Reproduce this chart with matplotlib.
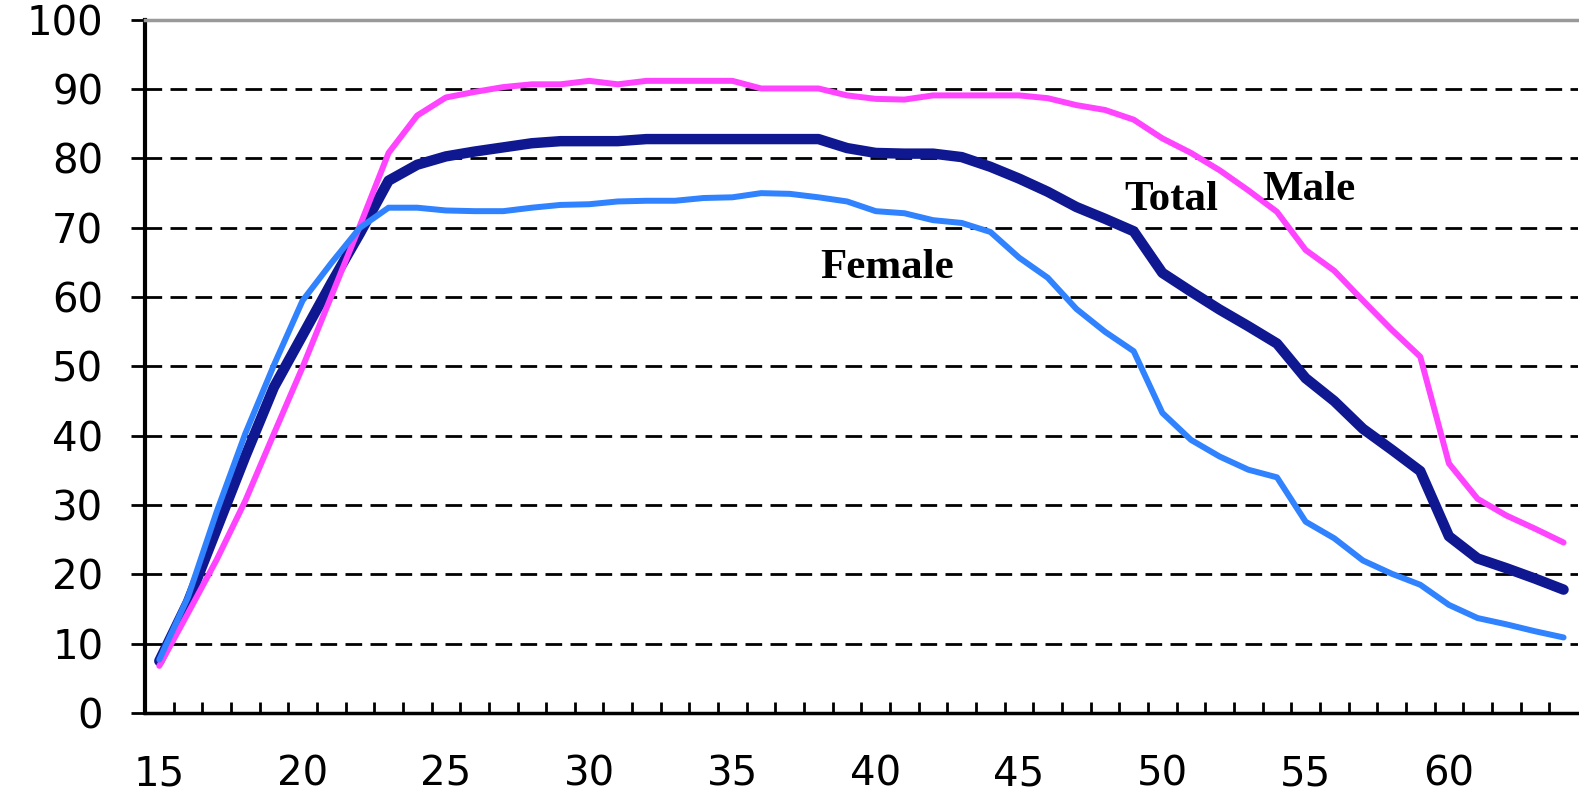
import matplotlib.pyplot as plt
from matplotlib.ticker import FixedLocator

ages = list(range(15, 65))

total = [7.5, 16, 26.5, 37, 47, 54.5, 62, 69.2, 76.8, 79.1,
         80.3, 81, 81.6, 82.2, 82.5, 82.5, 82.5, 82.8, 82.8, 82.8,
         82.8, 82.8, 82.8, 82.8, 81.5, 80.8, 80.7, 80.7, 80.2, 78.8,
         77.1, 75.2, 73, 71.3, 69.5, 63.5, 60.8, 58.2, 55.8, 53.3,
         48.3, 45, 41, 38, 34.9, 25.5, 22.3, 20.9, 19.4, 17.8]

male = [6.8, 14.4, 22.1, 30.6, 40.3, 49.9, 60.1, 70.3, 80.8, 86.2,
        88.8, 89.6, 90.3, 90.7, 90.7, 91.2, 90.7, 91.2, 91.2, 91.2,
        91.2, 90.1, 90.1, 90.1, 89.1, 88.6, 88.5, 89.1, 89.1, 89.1,
        89.1, 88.7, 87.7, 87, 85.6, 82.9, 80.8, 78.3, 75.4, 72.3,
        66.8, 63.8, 59.5, 55.3, 51.4, 36, 30.9, 28.5, 26.6, 24.6]

female = [7.7, 16.7, 29, 40.3, 50.2, 59.5, 64.9, 70, 72.9, 72.9,
          72.5, 72.4, 72.4, 72.9, 73.3, 73.4, 73.8, 73.9, 73.9, 74.3,
          74.4, 75, 74.9, 74.4, 73.8, 72.4, 72.1, 71.1, 70.7, 69.4,
          65.7, 62.8, 58.3, 55, 52.2, 43.3, 39.4, 37, 35.1, 34,
          27.6, 25.2, 22, 20.1, 18.5, 15.6, 13.7, 12.8, 11.8, 10.9]

xlabels = [15, 20, 25, 30, 35, 40, 45, 50, 55, 60]
ylabels = list(range(0, 101, 10))

# (text, x, y) for the in-plot series labels
series_labels = [("Female", 40.4, 64.2), ("Total", 50.3, 74.0), ("Male", 55.1, 75.5)]

fig = plt.figure(figsize=(15.79, 7.94), dpi=100)
ax = fig.add_axes([0.0918, 0.102, 0.9075, 0.873])

ax.plot(ages, total, color='#0f1890', lw=7.5, solid_capstyle='round', zorder=3)
ax.plot(ages, male, color='#ff44ff', lw=4.3, solid_capstyle='round', zorder=4)
ax.plot(ages, female, color='#3082ff', lw=4.3, solid_capstyle='round', zorder=5)

for txt, x, y in series_labels:
    ax.text(x, y, txt, ha='center', va='center', fontsize=31,
            fontweight='bold', family='Liberation Serif', zorder=6)

ax.set_xlim(14.5, 64.5)
ax.set_ylim(0, 100)

# dashed grid
for v in ylabels[1:-1]:
    ax.axhline(v, color='black', lw=2, ls=(0, (6, 3)), zorder=1)

ax.set_yticks(ylabels)
ax.set_yticklabels([str(v) for v in ylabels])
ax.tick_params(axis='y', direction='out', length=10, width=2, pad=20, labelsize=29)

ax.set_xticks(xlabels)
ax.set_xticklabels([str(v) for v in xlabels])
ax.xaxis.set_minor_locator(FixedLocator([a + 0.5 for a in ages[:-1]]))
ax.tick_params(axis='x', which='major', length=0, pad=30, labelsize=29)
ax.tick_params(axis='x', which='minor', direction='in', length=8, width=2)

ax.spines['left'].set_linewidth(3)
ax.spines['bottom'].set_linewidth(2.5)
ax.spines['top'].set_color('#999999')
ax.spines['top'].set_linewidth(2.5)
ax.spines['right'].set_visible(False)

fig.savefig('out.png', dpi=100)
